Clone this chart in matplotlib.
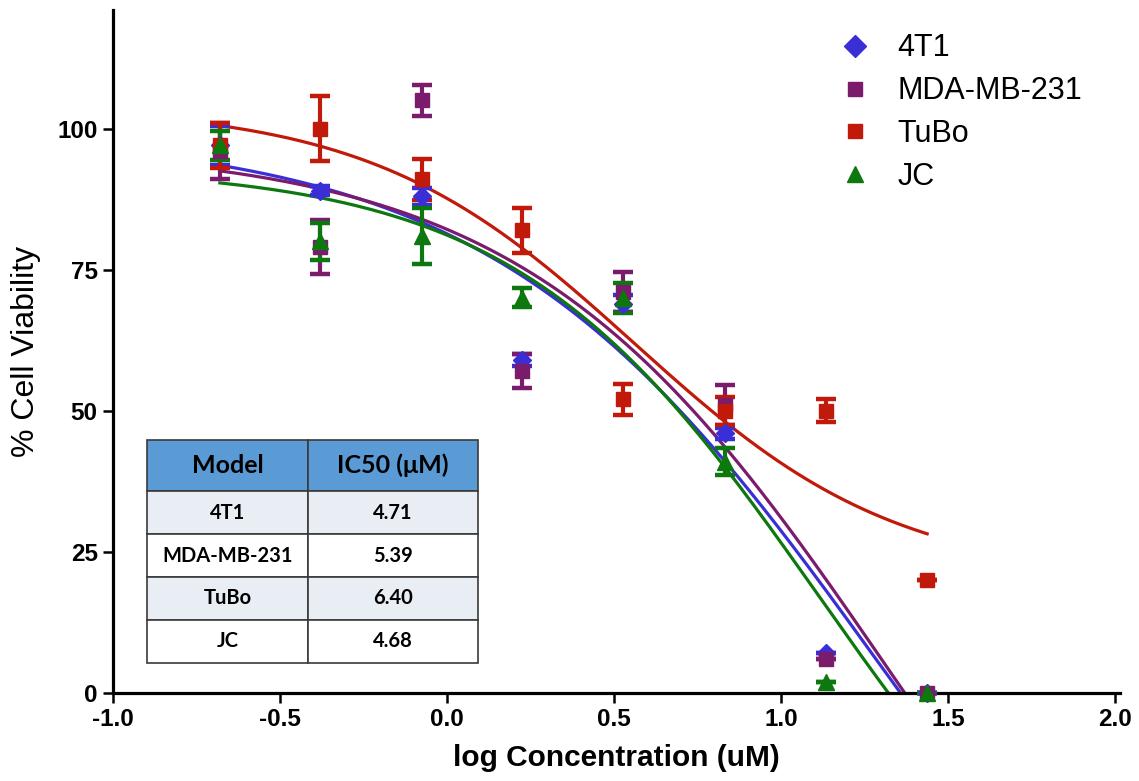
import numpy as np
import matplotlib
matplotlib.use('Agg')
import matplotlib.pyplot as plt
from matplotlib.lines import Line2D
from matplotlib.font_manager import FontProperties

# log concentration (uM), dilution series
log_conc = [-0.68, -0.38, -0.075, 0.225, 0.527, 0.832, 1.135, 1.438]

models = ['4T1', 'MDA-MB-231', 'TuBo', 'JC']

# mean % viability and SEM
via_4t1 = [97, 89, 88, 59, 69, 46, 7, 0]
err_4t1 = [3.5, 0.8, 1.5, 1.0, 1.5, 1.0, 0, 0]
via_mda = [96, 79, 105, 57, 71, 51, 6, 0]
err_mda = [5.0, 4.8, 2.8, 3.0, 3.5, 3.5, 0, 0]
via_tubo = [97, 100, 91, 82, 52, 50, 50, 20]
err_tubo = [4.0, 5.7, 3.6, 4.0, 2.8, 2.5, 2.0, 0]
via_jc = [97, 80, 81, 70, 70, 41, 2, 0]
err_jc = [2.5, 3.3, 5.0, 1.7, 2.7, 2.4, 0, 0]

# 4PL fit parameters (top, bottom, logIC50, hill) estimated from the drawn curves
fit_4t1 = [99.5, -90, 1.30, 0.75]
fit_mda = [97, -90, 1.33, 0.80]
fit_tubo = [104, 20, 0.56, 1.10]
fit_jc = [93.3, -60, 1.12, 0.95]

ic50 = ['4.71', '5.39', '6.40', '4.68']

colors = ['#3A2FD6', '#7B1B6C', '#C11A0A', '#0C780E']
markers = ['D', 's', 's', '^']
msizes = [9, 10, 10, 11]
leg_sizes = [11, 10, 10, 11]


def four_pl(x, top, bottom, logc, hill):
    return bottom + (top - bottom) / (1 + 10 ** ((x - logc) * hill))


fig = plt.figure(figsize=(11.39, 7.81), dpi=100)
ax = fig.add_axes([0.0992, 0.1127, 0.884, 0.8745])

series = [(via_4t1, err_4t1, fit_4t1), (via_mda, err_mda, fit_mda),
          (via_tubo, err_tubo, fit_tubo), (via_jc, err_jc, fit_jc)]

xs = np.linspace(log_conc[0], log_conc[-1], 300)
for i, (v, e, p) in enumerate(series):
    ax.plot(xs, four_pl(xs, *p), color=colors[i], lw=2.3, zorder=2)

for i, (v, e, p) in enumerate(series):
    ax.errorbar(log_conc, v, yerr=e, fmt=markers[i], color=colors[i], ms=msizes[i],
                elinewidth=3, capsize=7.5, capthick=3.2, zorder=3, clip_on=False)

ax.set_xlim(-1.0, 2.015)
ax.set_ylim(0, 121)
ax.set_xticks([-1.0, -0.5, 0.0, 0.5, 1.0, 1.5, 2.0])
ax.set_xticklabels(['-1.0', '-0.5', '0.0', '0.5', '1.0', '1.5', '2.0'])
ax.set_yticks([0, 25, 50, 75, 100])
for s in ['top', 'right']:
    ax.spines[s].set_visible(False)
for s in ['left', 'bottom']:
    ax.spines[s].set_linewidth(2.3)
ax.tick_params(direction='out', length=7, width=1.8, pad=4)
for lab in ax.get_xticklabels() + ax.get_yticklabels():
    lab.set_fontfamily('Liberation Sans')
    lab.set_fontweight('bold')
    lab.set_fontsize(17.5)

ax.set_xlabel('log Concentration (uM)', fontsize=21.5, fontweight='bold',
              family='Liberation Sans', labelpad=9)
ax.set_ylabel('% Cell Viability', fontsize=23, family='Liberation Sans', labelpad=12)

handles = [Line2D([], [], ls='none', marker=markers[i], color=colors[i],
                  ms=leg_sizes[i]) for i in range(4)]
leg = ax.legend(handles, models, loc='upper left', bbox_to_anchor=(0.697, 1.006),
                frameon=False, prop={'family': 'Liberation Sans', 'size': 22},
                handlelength=0.8, handletextpad=1.0, labelspacing=0.42)

# IC50 table
tax = fig.add_axes([0.129, 0.1511, 0.2906, 0.2855])
tax.axis('off')
cell_text = [[m, v] for m, v in zip(models, ic50)]
row_cols = [['#E9EDF4'] * 2, ['white'] * 2, ['#E9EDF4'] * 2, ['white'] * 2]
tbl = tax.table(cellText=cell_text, colLabels=['Model', 'IC50 (\u03bcM)'],
                cellColours=row_cols, colColours=['#5B9BD5'] * 2,
                colWidths=[161, 170], cellLoc='center', bbox=[0, 0, 1, 1])
tbl.auto_set_font_size(False)
for (r, c), cell in tbl.get_celld().items():
    cell.set_edgecolor('#3A3A3A')
    cell.set_linewidth(1.2)
    if r == 0:
        cell.set_height(51)
        cell.get_text().set_fontproperties(FontProperties(family='Lato', weight='bold', size=18))
    else:
        cell.set_height(43)
        cell.get_text().set_fontproperties(FontProperties(family='Lato', weight='bold', size=14.5))

fig.savefig('out.png', dpi=100)
